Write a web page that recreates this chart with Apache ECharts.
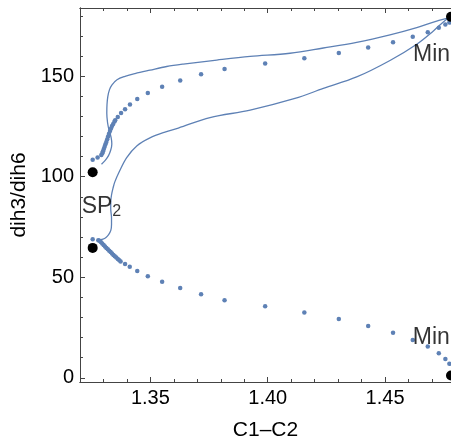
<!DOCTYPE html>
<html>
<head>
<meta charset="utf-8">
<script src="https://cdn.jsdelivr.net/npm/echarts@6/dist/echarts.min.js"></script>
<style>
  html, body { margin: 0; padding: 0; background: #fff; }
  #chart { width: 451px; height: 446px; }
</style>
</head>
<body>
<div id="chart"></div>
<script>
// upper branch of sampled points
const upperDotX = [1.3254, 1.3275, 1.32908, 1.32951, 1.3298, 1.33015, 1.33049, 1.33083, 1.33121, 1.3316, 1.33198, 1.33236, 1.33279, 1.33321, 1.33364, 1.33415, 1.33471, 1.3350, 1.3361, 1.3375, 1.3392, 1.3413, 1.3444, 1.3489, 1.3550, 1.3627, 1.3716, 1.3816, 1.3989, 1.4156, 1.4303, 1.4428, 1.4534, 1.4618, 1.4682, 1.4729, 1.4757, 1.4774];
const upperDotY = [108.4, 109.5, 110.8, 111.7, 112.7, 113.8, 114.9, 116.1, 117.3, 118.6, 120.0, 121.4, 122.7, 124.0, 125.2, 126.2, 127.4, 128.1, 129.7, 131.7, 133.6, 135.9, 138.7, 141.6, 144.7, 147.8, 150.9, 153.6, 156.3, 158.9, 161.5, 164.3, 166.9, 169.6, 171.8, 174.1, 175.7, 176.7];

// lower branch
const lowerDotX = [1.3254, 1.3278, 1.32831, 1.32887, 1.32946, 1.33006, 1.33066, 1.33125, 1.33185, 1.33245, 1.33304, 1.33364, 1.33424, 1.33483, 1.33547, 1.33611, 1.33675, 1.3373, 1.3392, 1.3412, 1.3444, 1.3489, 1.3550, 1.3627, 1.3716, 1.3816, 1.3989, 1.4156, 1.4303, 1.4428, 1.4534, 1.4618, 1.4682, 1.4729, 1.4757, 1.4774];
const lowerDotY = [68.9, 68.4, 68.1, 67.5, 66.8, 66.0, 65.3, 64.6, 63.9, 63.2, 62.5, 61.8, 61.1, 60.5, 59.8, 59.1, 58.4, 57.8, 56.6, 55.2, 53.1, 50.5, 47.7, 44.6, 41.6, 38.5, 35.6, 32.5, 29.2, 25.8, 22.4, 18.8, 15.5, 12.2, 9.3, 7.0];

// the two paths (thin lines)
const pathAX = [1.32916, 1.33066, 1.33215, 1.33313, 1.33356, 1.33321, 1.33236, 1.33172, 1.33142, 1.33151, 1.33185, 1.33257, 1.33364, 1.33577, 1.33918, 1.34344, 1.34984, 1.35696, 1.3640, 1.3783, 1.3925, 1.4095, 1.4237, 1.4379, 1.4521, 1.4635, 1.4720, 1.4763, 1.4781];
const pathAY = [106.2, 108.0, 110.5, 113.4, 116.3, 119.8, 123.2, 127.1, 131.5, 135.9, 139.8, 143.3, 145.7, 148.2, 149.9, 151.3, 153.0, 154.8, 156.0, 158.0, 159.8, 161.4, 164.0, 166.8, 170.5, 174.1, 177.4, 178.7, 179.5];
const pathBX = [1.32767, 1.3298, 1.33108, 1.3322, 1.33313, 1.33343, 1.33343, 1.33309, 1.33313, 1.33343, 1.33407, 1.3348, 1.33662, 1.3399, 1.3443, 1.3498, 1.3562, 1.3619, 1.3754, 1.3925, 1.4116, 1.4237, 1.4379, 1.4521, 1.4635, 1.4706, 1.4756, 1.4781];
const pathBY = [68.5, 69.0, 69.8, 71.2, 73.3, 76.2, 79.6, 84.0, 88.0, 90.9, 94.3, 97.3, 102.2, 109.5, 115.4, 119.3, 122.2, 124.2, 129.4, 133.1, 138.9, 143.9, 149.6, 157.8, 165.9, 172.5, 177.7, 179.5];

// stationary points
const statX = [1.3254, 1.3254, 1.4781, 1.4781];
const statY = [102.2, 64.6, 179.5, 1.1];

// annotations
const noteText = ['{a|SP}{b|2}', '{a|Min}', '{a|Min}'];
const noteX = [1.3207, 1.4619, 1.4618];
const noteY = [85.0, 160.8, 20.2];

const xTicks = [1.35, 1.40, 1.45];
const xMinor = [1.33, 1.34, 1.36, 1.37, 1.38, 1.39, 1.41, 1.42, 1.43, 1.44, 1.46, 1.47];
const yTicks = [0, 50, 100, 150];
const yMinor = [10, 20, 30, 40, 60, 70, 80, 90, 110, 120, 130, 140, 160, 170, 180];

const xRange = [1.32, 1.4781];
const yRange = [-2.1, 183.9];

const blue = '#5e81b5';
const axisColor = '#444';
const font = 'Liberation Sans';

const zip = (xs, ys) => xs.map((x, i) => [x, ys[i]]);

const xAxisBase = (pos, ticks, len, withLabels) => ({
  type: 'value',
  position: pos,
  min: xRange[0],
  max: xRange[1],
  splitLine: { show: false },
  axisLine: { show: true, onZero: false, lineStyle: { color: axisColor, width: 1 } },
  axisTick: { show: true, inside: true, length: len, customValues: ticks, lineStyle: { color: axisColor } },
  axisLabel: withLabels
    ? { show: true, customValues: ticks, formatter: v => v.toFixed(2), color: '#000', fontSize: 20, fontFamily: font, margin: 6 }
    : { show: false }
});

const yAxisBase = (ticks, len, withLabels) => ({
  type: 'value',
  position: 'left',
  min: yRange[0],
  max: yRange[1],
  splitLine: { show: false },
  axisLine: { show: true, onZero: false, lineStyle: { color: axisColor, width: 1 } },
  axisTick: { show: true, inside: true, length: len, customValues: ticks, lineStyle: { color: axisColor } },
  axisLabel: withLabels
    ? { show: true, customValues: ticks, color: '#000', fontSize: 20, fontFamily: font, margin: 6 }
    : { show: false }
});

const chart = echarts.init(document.getElementById('chart'), null, { renderer: 'canvas' });

const xMain = xAxisBase('bottom', xTicks, 5, true);
xMain.name = 'C1\u2013C2';
xMain.nameLocation = 'middle';
xMain.nameGap = 38;
xMain.nameTextStyle = { color: '#000', fontSize: 21, fontFamily: font };

const yMain = yAxisBase(yTicks, 5, true);
yMain.name = 'dih3/dih6';
yMain.nameLocation = 'middle';
yMain.nameGap = 48;
yMain.nameTextStyle = { color: '#000', fontSize: 21, fontFamily: font };

chart.setOption({
  animation: false,
  backgroundColor: '#fff',
  grid: { left: 80, top: 8, right: 0, bottom: 58, containLabel: false },
  xAxis: [
    xMain,
    xAxisBase('bottom', xMinor, 3, false),
    xAxisBase('top', xTicks, 5, false),
    xAxisBase('top', xMinor, 3, false)
  ],
  yAxis: [
    yMain,
    yAxisBase(yMinor, 3, false)
  ],
  series: [
    {
      type: 'line',
      data: zip(pathAX, pathAY),
      showSymbol: false,
      smooth: 0.35,
      lineStyle: { color: blue, width: 1.3 },
      z: 2
    },
    {
      type: 'line',
      data: zip(pathBX, pathBY),
      showSymbol: false,
      smooth: 0.35,
      lineStyle: { color: blue, width: 1.3 },
      z: 2
    },
    {
      type: 'scatter',
      data: zip(upperDotX, upperDotY),
      symbolSize: 4.5,
      itemStyle: { color: blue, opacity: 1 },
      z: 3
    },
    {
      type: 'scatter',
      data: zip(lowerDotX, lowerDotY),
      symbolSize: 4.5,
      itemStyle: { color: blue, opacity: 1 },
      z: 3
    },
    {
      type: 'scatter',
      data: zip(statX, statY),
      symbolSize: 10,
      itemStyle: { color: '#000', opacity: 1 },
      z: 4
    },
    {
      type: 'scatter',
      data: noteX.map((x, i) => ({ value: [x, noteY[i]], text: noteText[i] })),
      symbolSize: 0,
      silent: true,
      z: 5,
      label: {
        show: true,
        position: 'right',
        distance: 0,
        formatter: p => p.data.text,
        rich: {
          a: { fontSize: 23, fontFamily: font, color: '#000', lineHeight: 26 },
          b: { fontSize: 16, fontFamily: font, color: '#000', verticalAlign: 'bottom', lineHeight: 26, padding: [12, 0, 0, 0] }
        }
      }
    }
  ]
});
</script>
</body>
</html>
